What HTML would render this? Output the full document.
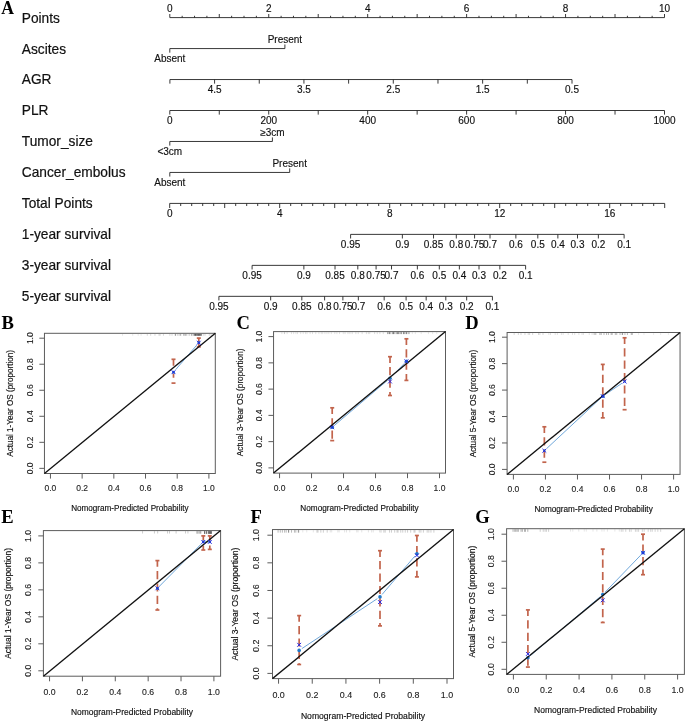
<!DOCTYPE html>
<html><head><meta charset="utf-8"><title>Nomogram and calibration curves</title>
<style>
html,body{margin:0;padding:0;background:#fff;}
svg{display:block}
text{font-family:"Liberation Sans",sans-serif;fill:#111}
.lab{font-size:13.72px;stroke:#111;stroke-width:0.2px}
.tk{font-size:10px;stroke:#111;stroke-width:0.15px}
.ct{font-size:8.5px;fill:#222;stroke:#222;stroke-width:0.12px}
.ttl{font-size:8.2px;fill:#111;stroke:#111;stroke-width:0.15px}
.pan{font-family:"Liberation Serif",serif;font-weight:bold;font-size:18.6px;fill:#000}
.ax{stroke:#222;stroke-width:0.9;fill:none}
.box{stroke:#5c5c5c;stroke-width:1;fill:none}
.diag{stroke:#111;stroke-width:1.35;fill:none}
.err{stroke:#c2644c;stroke-width:1.7;fill:none}
.cal{stroke:#4a90d0;stroke-width:0.8;fill:none}
.xm{stroke:#2424e0;stroke-width:1.0;fill:none}
.dot{fill:#1f78c8}
</style></head><body>
<svg width="685" height="721" viewBox="0 0 685 721">
<rect width="685" height="721" fill="#fff"/>
<defs><filter id="gs" x="0" y="0" width="100%" height="100%" filterUnits="objectBoundingBox" color-interpolation-filters="sRGB"><feColorMatrix type="saturate" values="0"/></filter></defs>

<g filter="url(#gs)">
<text class="pan" style="font-size:17.6px" transform="translate(1.2,13.8) scale(1,1.05)">A</text>
<text class="lab" x="21.8" y="22.7" text-anchor="start">Points</text>
<text class="lab" x="21.8" y="53.59" text-anchor="start">Ascites</text>
<text class="lab" x="21.8" y="84.48" text-anchor="start">AGR</text>
<text class="lab" x="21.8" y="115.37" text-anchor="start">PLR</text>
<text class="lab" x="21.8" y="146.26" text-anchor="start">Tumor_size</text>
<text class="lab" x="21.8" y="177.15" text-anchor="start">Cancer_embolus</text>
<text class="lab" x="21.8" y="208.04" text-anchor="start">Total Points</text>
<text class="lab" x="21.8" y="238.93" text-anchor="start">1-year survival</text>
<text class="lab" x="21.8" y="269.82" text-anchor="start">3-year survival</text>
<text class="lab" x="21.8" y="300.71" text-anchor="start">5-year survival</text>
<line class="ax" x1="169.8" y1="17.6" x2="664.5" y2="17.6"/>
<line class="ax" x1="169.8" y1="17.6" x2="169.8" y2="14"/>
<line class="ax" x1="182.17" y1="17.6" x2="182.17" y2="15.8"/>
<line class="ax" x1="194.54" y1="17.6" x2="194.54" y2="15.8"/>
<line class="ax" x1="206.9" y1="17.6" x2="206.9" y2="15.8"/>
<line class="ax" x1="219.27" y1="17.6" x2="219.27" y2="14"/>
<line class="ax" x1="231.64" y1="17.6" x2="231.64" y2="15.8"/>
<line class="ax" x1="244" y1="17.6" x2="244" y2="15.8"/>
<line class="ax" x1="256.37" y1="17.6" x2="256.37" y2="15.8"/>
<line class="ax" x1="268.74" y1="17.6" x2="268.74" y2="14"/>
<line class="ax" x1="281.11" y1="17.6" x2="281.11" y2="15.8"/>
<line class="ax" x1="293.48" y1="17.6" x2="293.48" y2="15.8"/>
<line class="ax" x1="305.84" y1="17.6" x2="305.84" y2="15.8"/>
<line class="ax" x1="318.21" y1="17.6" x2="318.21" y2="14"/>
<line class="ax" x1="330.58" y1="17.6" x2="330.58" y2="15.8"/>
<line class="ax" x1="342.94" y1="17.6" x2="342.94" y2="15.8"/>
<line class="ax" x1="355.31" y1="17.6" x2="355.31" y2="15.8"/>
<line class="ax" x1="367.68" y1="17.6" x2="367.68" y2="14"/>
<line class="ax" x1="380.05" y1="17.6" x2="380.05" y2="15.8"/>
<line class="ax" x1="392.42" y1="17.6" x2="392.42" y2="15.8"/>
<line class="ax" x1="404.78" y1="17.6" x2="404.78" y2="15.8"/>
<line class="ax" x1="417.15" y1="17.6" x2="417.15" y2="14"/>
<line class="ax" x1="429.52" y1="17.6" x2="429.52" y2="15.8"/>
<line class="ax" x1="441.88" y1="17.6" x2="441.88" y2="15.8"/>
<line class="ax" x1="454.25" y1="17.6" x2="454.25" y2="15.8"/>
<line class="ax" x1="466.62" y1="17.6" x2="466.62" y2="14"/>
<line class="ax" x1="478.99" y1="17.6" x2="478.99" y2="15.8"/>
<line class="ax" x1="491.36" y1="17.6" x2="491.36" y2="15.8"/>
<line class="ax" x1="503.72" y1="17.6" x2="503.72" y2="15.8"/>
<line class="ax" x1="516.09" y1="17.6" x2="516.09" y2="14"/>
<line class="ax" x1="528.46" y1="17.6" x2="528.46" y2="15.8"/>
<line class="ax" x1="540.83" y1="17.6" x2="540.83" y2="15.8"/>
<line class="ax" x1="553.19" y1="17.6" x2="553.19" y2="15.8"/>
<line class="ax" x1="565.56" y1="17.6" x2="565.56" y2="14"/>
<line class="ax" x1="577.93" y1="17.6" x2="577.93" y2="15.8"/>
<line class="ax" x1="590.3" y1="17.6" x2="590.3" y2="15.8"/>
<line class="ax" x1="602.66" y1="17.6" x2="602.66" y2="15.8"/>
<line class="ax" x1="615.03" y1="17.6" x2="615.03" y2="14"/>
<line class="ax" x1="627.4" y1="17.6" x2="627.4" y2="15.8"/>
<line class="ax" x1="639.76" y1="17.6" x2="639.76" y2="15.8"/>
<line class="ax" x1="652.13" y1="17.6" x2="652.13" y2="15.8"/>
<line class="ax" x1="664.5" y1="17.6" x2="664.5" y2="14"/>
<text class="tk" x="169.8" y="12" text-anchor="middle">0</text>
<text class="tk" x="268.74" y="12" text-anchor="middle">2</text>
<text class="tk" x="367.68" y="12" text-anchor="middle">4</text>
<text class="tk" x="466.62" y="12" text-anchor="middle">6</text>
<text class="tk" x="565.56" y="12" text-anchor="middle">8</text>
<text class="tk" x="664.5" y="12" text-anchor="middle">10</text>
<line class="ax" x1="169.8" y1="48.57" x2="284.9" y2="48.57"/>
<line class="ax" x1="169.8" y1="48.57" x2="169.8" y2="52.67"/>
<line class="ax" x1="284.9" y1="48.57" x2="284.9" y2="44.47"/>
<text class="tk" x="284.9" y="43.17" text-anchor="middle">Present</text>
<text class="tk" x="169.8" y="61.97" text-anchor="middle">Absent</text>
<line class="ax" x1="169.9" y1="79.54" x2="572" y2="79.54"/>
<line class="ax" x1="169.9" y1="79.54" x2="169.9" y2="83.64"/>
<line class="ax" x1="214.58" y1="79.54" x2="214.58" y2="83.64"/>
<text class="tk" x="214.58" y="92.74" text-anchor="middle">4.5</text>
<line class="ax" x1="259.26" y1="79.54" x2="259.26" y2="83.64"/>
<line class="ax" x1="303.93" y1="79.54" x2="303.93" y2="83.64"/>
<text class="tk" x="303.93" y="92.74" text-anchor="middle">3.5</text>
<line class="ax" x1="348.61" y1="79.54" x2="348.61" y2="83.64"/>
<line class="ax" x1="393.29" y1="79.54" x2="393.29" y2="83.64"/>
<text class="tk" x="393.29" y="92.74" text-anchor="middle">2.5</text>
<line class="ax" x1="437.97" y1="79.54" x2="437.97" y2="83.64"/>
<line class="ax" x1="482.64" y1="79.54" x2="482.64" y2="83.64"/>
<text class="tk" x="482.64" y="92.74" text-anchor="middle">1.5</text>
<line class="ax" x1="527.32" y1="79.54" x2="527.32" y2="83.64"/>
<line class="ax" x1="572" y1="79.54" x2="572" y2="83.64"/>
<text class="tk" x="572" y="92.74" text-anchor="middle">0.5</text>
<line class="ax" x1="169.8" y1="110.51" x2="664.5" y2="110.51"/>
<line class="ax" x1="169.8" y1="110.51" x2="169.8" y2="114.61"/>
<text class="tk" x="169.8" y="124.01" text-anchor="middle">0</text>
<line class="ax" x1="219.27" y1="110.51" x2="219.27" y2="114.61"/>
<line class="ax" x1="268.74" y1="110.51" x2="268.74" y2="114.61"/>
<text class="tk" x="268.74" y="124.01" text-anchor="middle">200</text>
<line class="ax" x1="318.21" y1="110.51" x2="318.21" y2="114.61"/>
<line class="ax" x1="367.68" y1="110.51" x2="367.68" y2="114.61"/>
<text class="tk" x="367.68" y="124.01" text-anchor="middle">400</text>
<line class="ax" x1="417.15" y1="110.51" x2="417.15" y2="114.61"/>
<line class="ax" x1="466.62" y1="110.51" x2="466.62" y2="114.61"/>
<text class="tk" x="466.62" y="124.01" text-anchor="middle">600</text>
<line class="ax" x1="516.09" y1="110.51" x2="516.09" y2="114.61"/>
<line class="ax" x1="565.56" y1="110.51" x2="565.56" y2="114.61"/>
<text class="tk" x="565.56" y="124.01" text-anchor="middle">800</text>
<line class="ax" x1="615.03" y1="110.51" x2="615.03" y2="114.61"/>
<line class="ax" x1="664.5" y1="110.51" x2="664.5" y2="114.61"/>
<text class="tk" x="664.5" y="124.01" text-anchor="middle">1000</text>
<line class="ax" x1="169.8" y1="141.48" x2="272.4" y2="141.48"/>
<line class="ax" x1="169.8" y1="141.48" x2="169.8" y2="145.58"/>
<line class="ax" x1="272.4" y1="141.48" x2="272.4" y2="137.38"/>
<text class="tk" x="272.4" y="136.08" text-anchor="middle">≥3cm</text>
<text class="tk" x="169.8" y="154.88" text-anchor="middle">&lt;3cm</text>
<line class="ax" x1="169.8" y1="172.45" x2="289.7" y2="172.45"/>
<line class="ax" x1="169.8" y1="172.45" x2="169.8" y2="176.55"/>
<line class="ax" x1="289.7" y1="172.45" x2="289.7" y2="168.35"/>
<text class="tk" x="289.7" y="167.05" text-anchor="middle">Present</text>
<text class="tk" x="169.8" y="185.85" text-anchor="middle">Absent</text>
<line class="ax" x1="169.7" y1="203.42" x2="664.7" y2="203.42"/>
<line class="ax" x1="169.7" y1="203.42" x2="169.7" y2="208.02"/>
<line class="ax" x1="180.7" y1="203.42" x2="180.7" y2="206.02"/>
<line class="ax" x1="191.7" y1="203.42" x2="191.7" y2="206.02"/>
<line class="ax" x1="202.7" y1="203.42" x2="202.7" y2="206.02"/>
<line class="ax" x1="213.7" y1="203.42" x2="213.7" y2="206.02"/>
<line class="ax" x1="224.7" y1="203.42" x2="224.7" y2="208.02"/>
<line class="ax" x1="235.7" y1="203.42" x2="235.7" y2="206.02"/>
<line class="ax" x1="246.7" y1="203.42" x2="246.7" y2="206.02"/>
<line class="ax" x1="257.7" y1="203.42" x2="257.7" y2="206.02"/>
<line class="ax" x1="268.7" y1="203.42" x2="268.7" y2="206.02"/>
<line class="ax" x1="279.7" y1="203.42" x2="279.7" y2="208.02"/>
<line class="ax" x1="290.7" y1="203.42" x2="290.7" y2="206.02"/>
<line class="ax" x1="301.7" y1="203.42" x2="301.7" y2="206.02"/>
<line class="ax" x1="312.7" y1="203.42" x2="312.7" y2="206.02"/>
<line class="ax" x1="323.7" y1="203.42" x2="323.7" y2="206.02"/>
<line class="ax" x1="334.7" y1="203.42" x2="334.7" y2="208.02"/>
<line class="ax" x1="345.7" y1="203.42" x2="345.7" y2="206.02"/>
<line class="ax" x1="356.7" y1="203.42" x2="356.7" y2="206.02"/>
<line class="ax" x1="367.7" y1="203.42" x2="367.7" y2="206.02"/>
<line class="ax" x1="378.7" y1="203.42" x2="378.7" y2="206.02"/>
<line class="ax" x1="389.7" y1="203.42" x2="389.7" y2="208.02"/>
<line class="ax" x1="400.7" y1="203.42" x2="400.7" y2="206.02"/>
<line class="ax" x1="411.7" y1="203.42" x2="411.7" y2="206.02"/>
<line class="ax" x1="422.7" y1="203.42" x2="422.7" y2="206.02"/>
<line class="ax" x1="433.7" y1="203.42" x2="433.7" y2="206.02"/>
<line class="ax" x1="444.7" y1="203.42" x2="444.7" y2="208.02"/>
<line class="ax" x1="455.7" y1="203.42" x2="455.7" y2="206.02"/>
<line class="ax" x1="466.7" y1="203.42" x2="466.7" y2="206.02"/>
<line class="ax" x1="477.7" y1="203.42" x2="477.7" y2="206.02"/>
<line class="ax" x1="488.7" y1="203.42" x2="488.7" y2="206.02"/>
<line class="ax" x1="499.7" y1="203.42" x2="499.7" y2="208.02"/>
<line class="ax" x1="510.7" y1="203.42" x2="510.7" y2="206.02"/>
<line class="ax" x1="521.7" y1="203.42" x2="521.7" y2="206.02"/>
<line class="ax" x1="532.7" y1="203.42" x2="532.7" y2="206.02"/>
<line class="ax" x1="543.7" y1="203.42" x2="543.7" y2="206.02"/>
<line class="ax" x1="554.7" y1="203.42" x2="554.7" y2="208.02"/>
<line class="ax" x1="565.7" y1="203.42" x2="565.7" y2="206.02"/>
<line class="ax" x1="576.7" y1="203.42" x2="576.7" y2="206.02"/>
<line class="ax" x1="587.7" y1="203.42" x2="587.7" y2="206.02"/>
<line class="ax" x1="598.7" y1="203.42" x2="598.7" y2="206.02"/>
<line class="ax" x1="609.7" y1="203.42" x2="609.7" y2="208.02"/>
<line class="ax" x1="620.7" y1="203.42" x2="620.7" y2="206.02"/>
<line class="ax" x1="631.7" y1="203.42" x2="631.7" y2="206.02"/>
<line class="ax" x1="642.7" y1="203.42" x2="642.7" y2="206.02"/>
<line class="ax" x1="653.7" y1="203.42" x2="653.7" y2="206.02"/>
<line class="ax" x1="664.7" y1="203.42" x2="664.7" y2="208.02"/>
<text class="tk" x="169.7" y="217.42" text-anchor="middle">0</text>
<text class="tk" x="279.7" y="217.42" text-anchor="middle">4</text>
<text class="tk" x="389.7" y="217.42" text-anchor="middle">8</text>
<text class="tk" x="499.7" y="217.42" text-anchor="middle">12</text>
<text class="tk" x="609.7" y="217.42" text-anchor="middle">16</text>
<line class="ax" x1="350.6" y1="234.39" x2="624.12" y2="234.39"/>
<line class="ax" x1="350.6" y1="234.39" x2="350.6" y2="238.49"/>
<text class="tk" x="350.6" y="248.19" text-anchor="middle">0.95</text>
<line class="ax" x1="402.36" y1="234.39" x2="402.36" y2="238.49"/>
<text class="tk" x="402.36" y="248.19" text-anchor="middle">0.9</text>
<line class="ax" x1="433.52" y1="234.39" x2="433.52" y2="238.49"/>
<text class="tk" x="433.52" y="248.19" text-anchor="middle">0.85</text>
<line class="ax" x1="456.31" y1="234.39" x2="456.31" y2="238.49"/>
<text class="tk" x="456.31" y="248.19" text-anchor="middle">0.8</text>
<line class="ax" x1="474.58" y1="234.39" x2="474.58" y2="238.49"/>
<text class="tk" x="474.58" y="248.19" text-anchor="middle">0.75</text>
<line class="ax" x1="490.03" y1="234.39" x2="490.03" y2="238.49"/>
<text class="tk" x="490.03" y="248.19" text-anchor="middle">0.7</text>
<line class="ax" x1="515.86" y1="234.39" x2="515.86" y2="238.49"/>
<text class="tk" x="515.86" y="248.19" text-anchor="middle">0.6</text>
<line class="ax" x1="537.8" y1="234.39" x2="537.8" y2="238.49"/>
<text class="tk" x="537.8" y="248.19" text-anchor="middle">0.5</text>
<line class="ax" x1="557.87" y1="234.39" x2="557.87" y2="238.49"/>
<text class="tk" x="557.87" y="248.19" text-anchor="middle">0.4</text>
<line class="ax" x1="577.5" y1="234.39" x2="577.5" y2="238.49"/>
<text class="tk" x="577.5" y="248.19" text-anchor="middle">0.3</text>
<line class="ax" x1="598.37" y1="234.39" x2="598.37" y2="238.49"/>
<text class="tk" x="598.37" y="248.19" text-anchor="middle">0.2</text>
<line class="ax" x1="624.12" y1="234.39" x2="624.12" y2="238.49"/>
<text class="tk" x="624.12" y="248.19" text-anchor="middle">0.1</text>
<line class="ax" x1="252.1" y1="265.36" x2="525.62" y2="265.36"/>
<line class="ax" x1="252.1" y1="265.36" x2="252.1" y2="269.46"/>
<text class="tk" x="252.1" y="279.16" text-anchor="middle">0.95</text>
<line class="ax" x1="303.86" y1="265.36" x2="303.86" y2="269.46"/>
<text class="tk" x="303.86" y="279.16" text-anchor="middle">0.9</text>
<line class="ax" x1="335.02" y1="265.36" x2="335.02" y2="269.46"/>
<text class="tk" x="335.02" y="279.16" text-anchor="middle">0.85</text>
<line class="ax" x1="357.81" y1="265.36" x2="357.81" y2="269.46"/>
<text class="tk" x="357.81" y="279.16" text-anchor="middle">0.8</text>
<line class="ax" x1="376.08" y1="265.36" x2="376.08" y2="269.46"/>
<text class="tk" x="376.08" y="279.16" text-anchor="middle">0.75</text>
<line class="ax" x1="391.53" y1="265.36" x2="391.53" y2="269.46"/>
<text class="tk" x="391.53" y="279.16" text-anchor="middle">0.7</text>
<line class="ax" x1="417.36" y1="265.36" x2="417.36" y2="269.46"/>
<text class="tk" x="417.36" y="279.16" text-anchor="middle">0.6</text>
<line class="ax" x1="439.3" y1="265.36" x2="439.3" y2="269.46"/>
<text class="tk" x="439.3" y="279.16" text-anchor="middle">0.5</text>
<line class="ax" x1="459.37" y1="265.36" x2="459.37" y2="269.46"/>
<text class="tk" x="459.37" y="279.16" text-anchor="middle">0.4</text>
<line class="ax" x1="479" y1="265.36" x2="479" y2="269.46"/>
<text class="tk" x="479" y="279.16" text-anchor="middle">0.3</text>
<line class="ax" x1="499.87" y1="265.36" x2="499.87" y2="269.46"/>
<text class="tk" x="499.87" y="279.16" text-anchor="middle">0.2</text>
<line class="ax" x1="525.62" y1="265.36" x2="525.62" y2="269.46"/>
<text class="tk" x="525.62" y="279.16" text-anchor="middle">0.1</text>
<line class="ax" x1="218.9" y1="296.33" x2="492.42" y2="296.33"/>
<line class="ax" x1="218.9" y1="296.33" x2="218.9" y2="300.43"/>
<text class="tk" x="218.9" y="310.13" text-anchor="middle">0.95</text>
<line class="ax" x1="270.66" y1="296.33" x2="270.66" y2="300.43"/>
<text class="tk" x="270.66" y="310.13" text-anchor="middle">0.9</text>
<line class="ax" x1="301.82" y1="296.33" x2="301.82" y2="300.43"/>
<text class="tk" x="301.82" y="310.13" text-anchor="middle">0.85</text>
<line class="ax" x1="324.61" y1="296.33" x2="324.61" y2="300.43"/>
<text class="tk" x="324.61" y="310.13" text-anchor="middle">0.8</text>
<line class="ax" x1="342.88" y1="296.33" x2="342.88" y2="300.43"/>
<text class="tk" x="342.88" y="310.13" text-anchor="middle">0.75</text>
<line class="ax" x1="358.33" y1="296.33" x2="358.33" y2="300.43"/>
<text class="tk" x="358.33" y="310.13" text-anchor="middle">0.7</text>
<line class="ax" x1="384.16" y1="296.33" x2="384.16" y2="300.43"/>
<text class="tk" x="384.16" y="310.13" text-anchor="middle">0.6</text>
<line class="ax" x1="406.1" y1="296.33" x2="406.1" y2="300.43"/>
<text class="tk" x="406.1" y="310.13" text-anchor="middle">0.5</text>
<line class="ax" x1="426.17" y1="296.33" x2="426.17" y2="300.43"/>
<text class="tk" x="426.17" y="310.13" text-anchor="middle">0.4</text>
<line class="ax" x1="445.8" y1="296.33" x2="445.8" y2="300.43"/>
<text class="tk" x="445.8" y="310.13" text-anchor="middle">0.3</text>
<line class="ax" x1="466.67" y1="296.33" x2="466.67" y2="300.43"/>
<text class="tk" x="466.67" y="310.13" text-anchor="middle">0.2</text>
<line class="ax" x1="492.42" y1="296.33" x2="492.42" y2="300.43"/>
<text class="tk" x="492.42" y="310.13" text-anchor="middle">0.1</text>
<text class="pan" transform="translate(1.6,329.3) scale(1,1.05)">B</text>
<line x1="122.55" y1="333.8" x2="122.55" y2="335.8" stroke="#000" stroke-opacity="0.17" stroke-width="0.6"/>
<line x1="132.73" y1="333.8" x2="132.73" y2="335.8" stroke="#000" stroke-opacity="0.17" stroke-width="0.6"/>
<line x1="138.17" y1="333.8" x2="138.17" y2="335.8" stroke="#000" stroke-opacity="0.17" stroke-width="0.6"/>
<line x1="141.09" y1="333.8" x2="141.09" y2="335.8" stroke="#000" stroke-opacity="0.17" stroke-width="0.6"/>
<line x1="147.29" y1="333.8" x2="147.29" y2="335.8" stroke="#000" stroke-opacity="0.26" stroke-width="0.6"/>
<line x1="150.69" y1="333.8" x2="150.69" y2="335.8" stroke="#000" stroke-opacity="0.26" stroke-width="0.6"/>
<line x1="154.97" y1="333.8" x2="154.97" y2="335.8" stroke="#000" stroke-opacity="0.26" stroke-width="0.6"/>
<line x1="159.03" y1="333.8" x2="159.03" y2="335.8" stroke="#000" stroke-opacity="0.26" stroke-width="0.6"/>
<line x1="160.12" y1="333.8" x2="160.12" y2="335.8" stroke="#000" stroke-opacity="0.26" stroke-width="0.6"/>
<line x1="163.45" y1="333.8" x2="163.45" y2="335.8" stroke="#000" stroke-opacity="0.26" stroke-width="0.6"/>
<line x1="169.89" y1="333.8" x2="169.89" y2="335.8" stroke="#000" stroke-opacity="0.26" stroke-width="0.6"/>
<line x1="172.02" y1="333.8" x2="172.02" y2="335.8" stroke="#000" stroke-opacity="0.26" stroke-width="0.6"/>
<line x1="175.25" y1="333.8" x2="175.25" y2="335.8" stroke="#000" stroke-opacity="0.43" stroke-width="0.6"/>
<line x1="175.63" y1="333.8" x2="175.63" y2="335.8" stroke="#000" stroke-opacity="0.43" stroke-width="0.6"/>
<line x1="177.92" y1="333.8" x2="177.92" y2="335.8" stroke="#000" stroke-opacity="0.43" stroke-width="0.6"/>
<line x1="179.94" y1="333.8" x2="179.94" y2="335.8" stroke="#000" stroke-opacity="0.43" stroke-width="0.6"/>
<line x1="180.74" y1="333.8" x2="180.74" y2="335.8" stroke="#000" stroke-opacity="0.43" stroke-width="0.6"/>
<line x1="183.46" y1="333.8" x2="183.46" y2="335.8" stroke="#000" stroke-opacity="0.43" stroke-width="0.6"/>
<line x1="184.98" y1="333.8" x2="184.98" y2="335.8" stroke="#000" stroke-opacity="0.43" stroke-width="0.6"/>
<line x1="185.18" y1="333.8" x2="185.18" y2="335.8" stroke="#000" stroke-opacity="0.43" stroke-width="0.6"/>
<line x1="186.76" y1="333.8" x2="186.76" y2="335.8" stroke="#000" stroke-opacity="0.43" stroke-width="0.6"/>
<line x1="189.16" y1="333.8" x2="189.16" y2="335.8" stroke="#000" stroke-opacity="0.43" stroke-width="0.6"/>
<line x1="191.37" y1="333.8" x2="191.37" y2="335.8" stroke="#000" stroke-opacity="0.43" stroke-width="0.6"/>
<line x1="192.07" y1="333.8" x2="192.07" y2="335.8" stroke="#000" stroke-opacity="0.43" stroke-width="0.6"/>
<line x1="194.02" y1="333.8" x2="194.02" y2="335.8" stroke="#000" stroke-opacity="0.9" stroke-width="0.6"/>
<line x1="194.97" y1="333.8" x2="194.97" y2="335.8" stroke="#000" stroke-opacity="0.9" stroke-width="0.6"/>
<line x1="195.45" y1="333.8" x2="195.45" y2="335.8" stroke="#000" stroke-opacity="0.9" stroke-width="0.6"/>
<line x1="196.4" y1="333.8" x2="196.4" y2="335.8" stroke="#000" stroke-opacity="0.9" stroke-width="0.6"/>
<line x1="197.36" y1="333.8" x2="197.36" y2="335.8" stroke="#000" stroke-opacity="0.9" stroke-width="0.6"/>
<line x1="198.2" y1="333.8" x2="198.2" y2="335.8" stroke="#000" stroke-opacity="0.9" stroke-width="0.6"/>
<line x1="198.79" y1="333.8" x2="198.79" y2="335.8" stroke="#000" stroke-opacity="0.9" stroke-width="0.6"/>
<line x1="199.58" y1="333.8" x2="199.58" y2="335.8" stroke="#000" stroke-opacity="0.9" stroke-width="0.6"/>
<line x1="200.36" y1="333.8" x2="200.36" y2="335.8" stroke="#000" stroke-opacity="0.9" stroke-width="0.6"/>
<line x1="201.34" y1="333.8" x2="201.34" y2="335.8" stroke="#000" stroke-opacity="0.9" stroke-width="0.6"/>
<line x1="203.25" y1="333.8" x2="203.25" y2="335.8" stroke="#000" stroke-opacity="0.26" stroke-width="0.6"/>
<line x1="204.99" y1="333.8" x2="204.99" y2="335.8" stroke="#000" stroke-opacity="0.26" stroke-width="0.6"/>
<line x1="209.31" y1="333.8" x2="209.31" y2="335.8" stroke="#000" stroke-opacity="0.26" stroke-width="0.6"/>
<line x1="211.01" y1="333.8" x2="211.01" y2="335.8" stroke="#000" stroke-opacity="0.26" stroke-width="0.6"/>
<rect class="box" x="44.45" y="333.3" width="170.85" height="140.2"/>
<line class="box" x1="50.45" y1="473.5" x2="50.45" y2="478.6"/>
<text class="ct" x="50.45" y="491.3" text-anchor="middle" style="font-size:8.5px">0.0</text>
<line class="box" x1="44.45" y1="468.35" x2="39.35" y2="468.35"/>
<text class="ct" style="font-size:8.5px" text-anchor="middle" transform="translate(33.3,468.35) rotate(-90)">0.0</text>
<line class="box" x1="82.14" y1="473.5" x2="82.14" y2="478.6"/>
<text class="ct" x="82.14" y="491.3" text-anchor="middle" style="font-size:8.5px">0.2</text>
<line class="box" x1="44.45" y1="442.32" x2="39.35" y2="442.32"/>
<text class="ct" style="font-size:8.5px" text-anchor="middle" transform="translate(33.3,442.32) rotate(-90)">0.2</text>
<line class="box" x1="113.83" y1="473.5" x2="113.83" y2="478.6"/>
<text class="ct" x="113.83" y="491.3" text-anchor="middle" style="font-size:8.5px">0.4</text>
<line class="box" x1="44.45" y1="416.29" x2="39.35" y2="416.29"/>
<text class="ct" style="font-size:8.5px" text-anchor="middle" transform="translate(33.3,416.29) rotate(-90)">0.4</text>
<line class="box" x1="145.52" y1="473.5" x2="145.52" y2="478.6"/>
<text class="ct" x="145.52" y="491.3" text-anchor="middle" style="font-size:8.5px">0.6</text>
<line class="box" x1="44.45" y1="390.26" x2="39.35" y2="390.26"/>
<text class="ct" style="font-size:8.5px" text-anchor="middle" transform="translate(33.3,390.26) rotate(-90)">0.6</text>
<line class="box" x1="177.21" y1="473.5" x2="177.21" y2="478.6"/>
<text class="ct" x="177.21" y="491.3" text-anchor="middle" style="font-size:8.5px">0.8</text>
<line class="box" x1="44.45" y1="364.23" x2="39.35" y2="364.23"/>
<text class="ct" style="font-size:8.5px" text-anchor="middle" transform="translate(33.3,364.23) rotate(-90)">0.8</text>
<line class="box" x1="208.9" y1="473.5" x2="208.9" y2="478.6"/>
<text class="ct" x="208.9" y="491.3" text-anchor="middle" style="font-size:8.5px">1.0</text>
<line class="box" x1="44.45" y1="338.2" x2="39.35" y2="338.2"/>
<text class="ct" style="font-size:8.5px" text-anchor="middle" transform="translate(33.3,338.2) rotate(-90)">1.0</text>
<text class="ttl" x="129.88" y="510.5" text-anchor="middle" style="font-size:8.15px">Nomogram-Predicted Probability</text>
<text class="ttl" style="font-size:8.15px" text-anchor="middle" transform="translate(13.3,403.4) rotate(-90)">Actual 1-Year OS (proportion)</text>
<text class="pan" transform="translate(236.4,329.4) scale(1,1.05)">C</text>
<line x1="281.9" y1="332.1" x2="281.9" y2="334.1" stroke="#000" stroke-opacity="0.2" stroke-width="0.6"/>
<line x1="284.34" y1="332.1" x2="284.34" y2="334.1" stroke="#000" stroke-opacity="0.2" stroke-width="0.6"/>
<line x1="284.61" y1="332.1" x2="284.61" y2="334.1" stroke="#000" stroke-opacity="0.2" stroke-width="0.6"/>
<line x1="287.14" y1="332.1" x2="287.14" y2="334.1" stroke="#000" stroke-opacity="0.2" stroke-width="0.6"/>
<line x1="291.45" y1="332.1" x2="291.45" y2="334.1" stroke="#000" stroke-opacity="0.2" stroke-width="0.6"/>
<line x1="293.66" y1="332.1" x2="293.66" y2="334.1" stroke="#000" stroke-opacity="0.2" stroke-width="0.6"/>
<line x1="295.96" y1="332.1" x2="295.96" y2="334.1" stroke="#000" stroke-opacity="0.2" stroke-width="0.6"/>
<line x1="297.53" y1="332.1" x2="297.53" y2="334.1" stroke="#000" stroke-opacity="0.2" stroke-width="0.6"/>
<line x1="300.73" y1="332.1" x2="300.73" y2="334.1" stroke="#000" stroke-opacity="0.2" stroke-width="0.6"/>
<line x1="303.19" y1="332.1" x2="303.19" y2="334.1" stroke="#000" stroke-opacity="0.2" stroke-width="0.6"/>
<line x1="305.59" y1="332.1" x2="305.59" y2="334.1" stroke="#000" stroke-opacity="0.2" stroke-width="0.6"/>
<line x1="307.01" y1="332.1" x2="307.01" y2="334.1" stroke="#000" stroke-opacity="0.2" stroke-width="0.6"/>
<line x1="310.14" y1="332.1" x2="310.14" y2="334.1" stroke="#000" stroke-opacity="0.2" stroke-width="0.6"/>
<line x1="312.51" y1="332.1" x2="312.51" y2="334.1" stroke="#000" stroke-opacity="0.2" stroke-width="0.6"/>
<line x1="315.78" y1="332.1" x2="315.78" y2="334.1" stroke="#000" stroke-opacity="0.2" stroke-width="0.6"/>
<line x1="318.91" y1="332.1" x2="318.91" y2="334.1" stroke="#000" stroke-opacity="0.2" stroke-width="0.6"/>
<line x1="321.26" y1="332.1" x2="321.26" y2="334.1" stroke="#000" stroke-opacity="0.2" stroke-width="0.6"/>
<line x1="322.72" y1="332.1" x2="322.72" y2="334.1" stroke="#000" stroke-opacity="0.2" stroke-width="0.6"/>
<line x1="324.94" y1="332.1" x2="324.94" y2="334.1" stroke="#000" stroke-opacity="0.2" stroke-width="0.6"/>
<line x1="326.96" y1="332.1" x2="326.96" y2="334.1" stroke="#000" stroke-opacity="0.2" stroke-width="0.6"/>
<line x1="328.85" y1="332.1" x2="328.85" y2="334.1" stroke="#000" stroke-opacity="0.2" stroke-width="0.6"/>
<line x1="331.29" y1="332.1" x2="331.29" y2="334.1" stroke="#000" stroke-opacity="0.2" stroke-width="0.6"/>
<line x1="334.83" y1="332.1" x2="334.83" y2="334.1" stroke="#000" stroke-opacity="0.2" stroke-width="0.6"/>
<line x1="336.93" y1="332.1" x2="336.93" y2="334.1" stroke="#000" stroke-opacity="0.2" stroke-width="0.6"/>
<line x1="339.54" y1="332.1" x2="339.54" y2="334.1" stroke="#000" stroke-opacity="0.2" stroke-width="0.6"/>
<line x1="343.26" y1="332.1" x2="343.26" y2="334.1" stroke="#000" stroke-opacity="0.2" stroke-width="0.6"/>
<line x1="345.03" y1="332.1" x2="345.03" y2="334.1" stroke="#000" stroke-opacity="0.23" stroke-width="0.6"/>
<line x1="347.99" y1="332.1" x2="347.99" y2="334.1" stroke="#000" stroke-opacity="0.23" stroke-width="0.6"/>
<line x1="349.92" y1="332.1" x2="349.92" y2="334.1" stroke="#000" stroke-opacity="0.23" stroke-width="0.6"/>
<line x1="352.17" y1="332.1" x2="352.17" y2="334.1" stroke="#000" stroke-opacity="0.23" stroke-width="0.6"/>
<line x1="355.88" y1="332.1" x2="355.88" y2="334.1" stroke="#000" stroke-opacity="0.23" stroke-width="0.6"/>
<line x1="358.2" y1="332.1" x2="358.2" y2="334.1" stroke="#000" stroke-opacity="0.23" stroke-width="0.6"/>
<line x1="362.12" y1="332.1" x2="362.12" y2="334.1" stroke="#000" stroke-opacity="0.23" stroke-width="0.6"/>
<line x1="366.38" y1="332.1" x2="366.38" y2="334.1" stroke="#000" stroke-opacity="0.23" stroke-width="0.6"/>
<line x1="368.31" y1="332.1" x2="368.31" y2="334.1" stroke="#000" stroke-opacity="0.23" stroke-width="0.6"/>
<line x1="369.76" y1="332.1" x2="369.76" y2="334.1" stroke="#000" stroke-opacity="0.23" stroke-width="0.6"/>
<line x1="374.64" y1="332.1" x2="374.64" y2="334.1" stroke="#000" stroke-opacity="0.23" stroke-width="0.6"/>
<line x1="377.22" y1="332.1" x2="377.22" y2="334.1" stroke="#000" stroke-opacity="0.23" stroke-width="0.6"/>
<line x1="379.9" y1="332.1" x2="379.9" y2="334.1" stroke="#000" stroke-opacity="0.23" stroke-width="0.6"/>
<line x1="383.25" y1="332.1" x2="383.25" y2="334.1" stroke="#000" stroke-opacity="0.23" stroke-width="0.6"/>
<line x1="387.78" y1="332.1" x2="387.78" y2="334.1" stroke="#000" stroke-opacity="0.72" stroke-width="0.6"/>
<line x1="389.22" y1="332.1" x2="389.22" y2="334.1" stroke="#000" stroke-opacity="0.72" stroke-width="0.6"/>
<line x1="390.01" y1="332.1" x2="390.01" y2="334.1" stroke="#000" stroke-opacity="0.72" stroke-width="0.6"/>
<line x1="392.29" y1="332.1" x2="392.29" y2="334.1" stroke="#000" stroke-opacity="0.72" stroke-width="0.6"/>
<line x1="393.66" y1="332.1" x2="393.66" y2="334.1" stroke="#000" stroke-opacity="0.72" stroke-width="0.6"/>
<line x1="393.94" y1="332.1" x2="393.94" y2="334.1" stroke="#000" stroke-opacity="0.72" stroke-width="0.6"/>
<line x1="396.17" y1="332.1" x2="396.17" y2="334.1" stroke="#000" stroke-opacity="0.72" stroke-width="0.6"/>
<line x1="397.51" y1="332.1" x2="397.51" y2="334.1" stroke="#000" stroke-opacity="0.72" stroke-width="0.6"/>
<line x1="398.56" y1="332.1" x2="398.56" y2="334.1" stroke="#000" stroke-opacity="0.72" stroke-width="0.6"/>
<line x1="400.05" y1="332.1" x2="400.05" y2="334.1" stroke="#000" stroke-opacity="0.72" stroke-width="0.6"/>
<line x1="401.4" y1="332.1" x2="401.4" y2="334.1" stroke="#000" stroke-opacity="0.72" stroke-width="0.6"/>
<line x1="403.41" y1="332.1" x2="403.41" y2="334.1" stroke="#000" stroke-opacity="0.72" stroke-width="0.6"/>
<line x1="404.21" y1="332.1" x2="404.21" y2="334.1" stroke="#000" stroke-opacity="0.72" stroke-width="0.6"/>
<line x1="406.07" y1="332.1" x2="406.07" y2="334.1" stroke="#000" stroke-opacity="0.72" stroke-width="0.6"/>
<line x1="406.81" y1="332.1" x2="406.81" y2="334.1" stroke="#000" stroke-opacity="0.72" stroke-width="0.6"/>
<line x1="408.95" y1="332.1" x2="408.95" y2="334.1" stroke="#000" stroke-opacity="0.72" stroke-width="0.6"/>
<line x1="412.31" y1="332.1" x2="412.31" y2="334.1" stroke="#000" stroke-opacity="0.17" stroke-width="0.6"/>
<line x1="415.3" y1="332.1" x2="415.3" y2="334.1" stroke="#000" stroke-opacity="0.17" stroke-width="0.6"/>
<line x1="421.2" y1="332.1" x2="421.2" y2="334.1" stroke="#000" stroke-opacity="0.17" stroke-width="0.6"/>
<line x1="428.41" y1="332.1" x2="428.41" y2="334.1" stroke="#000" stroke-opacity="0.17" stroke-width="0.6"/>
<line x1="432.7" y1="332.1" x2="432.7" y2="334.1" stroke="#000" stroke-opacity="0.17" stroke-width="0.6"/>
<line x1="436.76" y1="332.1" x2="436.76" y2="334.1" stroke="#000" stroke-opacity="0.17" stroke-width="0.6"/>
<rect class="box" x="273.55" y="331.6" width="171.95" height="141.5"/>
<line class="box" x1="279.55" y1="473.1" x2="279.55" y2="478.2"/>
<text class="ct" x="279.55" y="491.3" text-anchor="middle" style="font-size:8.5px">0.0</text>
<line class="box" x1="273.55" y1="467.9" x2="268.45" y2="467.9"/>
<text class="ct" style="font-size:8.5px" text-anchor="middle" transform="translate(262,467.9) rotate(-90)">0.0</text>
<line class="box" x1="311.54" y1="473.1" x2="311.54" y2="478.2"/>
<text class="ct" x="311.54" y="491.3" text-anchor="middle" style="font-size:8.5px">0.2</text>
<line class="box" x1="273.55" y1="441.64" x2="268.45" y2="441.64"/>
<text class="ct" style="font-size:8.5px" text-anchor="middle" transform="translate(262,441.64) rotate(-90)">0.2</text>
<line class="box" x1="343.53" y1="473.1" x2="343.53" y2="478.2"/>
<text class="ct" x="343.53" y="491.3" text-anchor="middle" style="font-size:8.5px">0.4</text>
<line class="box" x1="273.55" y1="415.38" x2="268.45" y2="415.38"/>
<text class="ct" style="font-size:8.5px" text-anchor="middle" transform="translate(262,415.38) rotate(-90)">0.4</text>
<line class="box" x1="375.52" y1="473.1" x2="375.52" y2="478.2"/>
<text class="ct" x="375.52" y="491.3" text-anchor="middle" style="font-size:8.5px">0.6</text>
<line class="box" x1="273.55" y1="389.12" x2="268.45" y2="389.12"/>
<text class="ct" style="font-size:8.5px" text-anchor="middle" transform="translate(262,389.12) rotate(-90)">0.6</text>
<line class="box" x1="407.51" y1="473.1" x2="407.51" y2="478.2"/>
<text class="ct" x="407.51" y="491.3" text-anchor="middle" style="font-size:8.5px">0.8</text>
<line class="box" x1="273.55" y1="362.86" x2="268.45" y2="362.86"/>
<text class="ct" style="font-size:8.5px" text-anchor="middle" transform="translate(262,362.86) rotate(-90)">0.8</text>
<line class="box" x1="439.5" y1="473.1" x2="439.5" y2="478.2"/>
<text class="ct" x="439.5" y="491.3" text-anchor="middle" style="font-size:8.5px">1.0</text>
<line class="box" x1="273.55" y1="336.6" x2="268.45" y2="336.6"/>
<text class="ct" style="font-size:8.5px" text-anchor="middle" transform="translate(262,336.6) rotate(-90)">1.0</text>
<text class="ttl" x="359.52" y="510.5" text-anchor="middle" style="font-size:8.2px">Nomogram-Predicted Probability</text>
<text class="ttl" style="font-size:8.2px" text-anchor="middle" transform="translate(242.5,402.35) rotate(-90)">Actual 3-Year OS (proportion)</text>
<text class="pan" transform="translate(465.2,329.3) scale(1,1.05)">D</text>
<line x1="514.16" y1="333" x2="514.16" y2="335" stroke="#000" stroke-opacity="0.26" stroke-width="0.6"/>
<line x1="518.35" y1="333" x2="518.35" y2="335" stroke="#000" stroke-opacity="0.26" stroke-width="0.6"/>
<line x1="520.99" y1="333" x2="520.99" y2="335" stroke="#000" stroke-opacity="0.26" stroke-width="0.6"/>
<line x1="524.95" y1="333" x2="524.95" y2="335" stroke="#000" stroke-opacity="0.26" stroke-width="0.6"/>
<line x1="528.22" y1="333" x2="528.22" y2="335" stroke="#000" stroke-opacity="0.26" stroke-width="0.6"/>
<line x1="529.63" y1="333" x2="529.63" y2="335" stroke="#000" stroke-opacity="0.26" stroke-width="0.6"/>
<line x1="532.67" y1="333" x2="532.67" y2="335" stroke="#000" stroke-opacity="0.26" stroke-width="0.6"/>
<line x1="538.51" y1="333" x2="538.51" y2="335" stroke="#000" stroke-opacity="0.26" stroke-width="0.6"/>
<line x1="539.86" y1="333" x2="539.86" y2="335" stroke="#000" stroke-opacity="0.26" stroke-width="0.6"/>
<line x1="542.99" y1="333" x2="542.99" y2="335" stroke="#000" stroke-opacity="0.26" stroke-width="0.6"/>
<line x1="548.86" y1="333" x2="548.86" y2="335" stroke="#000" stroke-opacity="0.2" stroke-width="0.6"/>
<line x1="550.49" y1="333" x2="550.49" y2="335" stroke="#000" stroke-opacity="0.2" stroke-width="0.6"/>
<line x1="555.18" y1="333" x2="555.18" y2="335" stroke="#000" stroke-opacity="0.2" stroke-width="0.6"/>
<line x1="557.37" y1="333" x2="557.37" y2="335" stroke="#000" stroke-opacity="0.2" stroke-width="0.6"/>
<line x1="561.37" y1="333" x2="561.37" y2="335" stroke="#000" stroke-opacity="0.2" stroke-width="0.6"/>
<line x1="563.12" y1="333" x2="563.12" y2="335" stroke="#000" stroke-opacity="0.2" stroke-width="0.6"/>
<line x1="568.22" y1="333" x2="568.22" y2="335" stroke="#000" stroke-opacity="0.2" stroke-width="0.6"/>
<line x1="572.45" y1="333" x2="572.45" y2="335" stroke="#000" stroke-opacity="0.2" stroke-width="0.6"/>
<line x1="574.7" y1="333" x2="574.7" y2="335" stroke="#000" stroke-opacity="0.2" stroke-width="0.6"/>
<line x1="578.88" y1="333" x2="578.88" y2="335" stroke="#000" stroke-opacity="0.2" stroke-width="0.6"/>
<line x1="582.07" y1="333" x2="582.07" y2="335" stroke="#000" stroke-opacity="0.2" stroke-width="0.6"/>
<line x1="583.42" y1="333" x2="583.42" y2="335" stroke="#000" stroke-opacity="0.2" stroke-width="0.6"/>
<line x1="589.24" y1="333" x2="589.24" y2="335" stroke="#000" stroke-opacity="0.2" stroke-width="0.6"/>
<line x1="592.1" y1="333" x2="592.1" y2="335" stroke="#000" stroke-opacity="0.2" stroke-width="0.6"/>
<line x1="594.17" y1="333" x2="594.17" y2="335" stroke="#000" stroke-opacity="0.46" stroke-width="0.6"/>
<line x1="595.79" y1="333" x2="595.79" y2="335" stroke="#000" stroke-opacity="0.46" stroke-width="0.6"/>
<line x1="599.88" y1="333" x2="599.88" y2="335" stroke="#000" stroke-opacity="0.46" stroke-width="0.6"/>
<line x1="601.23" y1="333" x2="601.23" y2="335" stroke="#000" stroke-opacity="0.46" stroke-width="0.6"/>
<line x1="604" y1="333" x2="604" y2="335" stroke="#000" stroke-opacity="0.46" stroke-width="0.6"/>
<line x1="606.58" y1="333" x2="606.58" y2="335" stroke="#000" stroke-opacity="0.46" stroke-width="0.6"/>
<line x1="608.44" y1="333" x2="608.44" y2="335" stroke="#000" stroke-opacity="0.46" stroke-width="0.6"/>
<line x1="611.12" y1="333" x2="611.12" y2="335" stroke="#000" stroke-opacity="0.46" stroke-width="0.6"/>
<line x1="612.18" y1="333" x2="612.18" y2="335" stroke="#000" stroke-opacity="0.46" stroke-width="0.6"/>
<line x1="615.31" y1="333" x2="615.31" y2="335" stroke="#000" stroke-opacity="0.46" stroke-width="0.6"/>
<line x1="616.74" y1="333" x2="616.74" y2="335" stroke="#000" stroke-opacity="0.46" stroke-width="0.6"/>
<line x1="620.06" y1="333" x2="620.06" y2="335" stroke="#000" stroke-opacity="0.46" stroke-width="0.6"/>
<line x1="622.16" y1="333" x2="622.16" y2="335" stroke="#000" stroke-opacity="0.46" stroke-width="0.6"/>
<line x1="622.64" y1="333" x2="622.64" y2="335" stroke="#000" stroke-opacity="0.46" stroke-width="0.6"/>
<line x1="624.95" y1="333" x2="624.95" y2="335" stroke="#000" stroke-opacity="0.46" stroke-width="0.6"/>
<line x1="627.36" y1="333" x2="627.36" y2="335" stroke="#000" stroke-opacity="0.46" stroke-width="0.6"/>
<line x1="631.25" y1="333" x2="631.25" y2="335" stroke="#000" stroke-opacity="0.46" stroke-width="0.6"/>
<line x1="632.3" y1="333" x2="632.3" y2="335" stroke="#000" stroke-opacity="0.46" stroke-width="0.6"/>
<line x1="638.57" y1="333" x2="638.57" y2="335" stroke="#000" stroke-opacity="0.14" stroke-width="0.6"/>
<line x1="643.97" y1="333" x2="643.97" y2="335" stroke="#000" stroke-opacity="0.14" stroke-width="0.6"/>
<line x1="653.63" y1="333" x2="653.63" y2="335" stroke="#000" stroke-opacity="0.14" stroke-width="0.6"/>
<line x1="660.67" y1="333" x2="660.67" y2="335" stroke="#000" stroke-opacity="0.14" stroke-width="0.6"/>
<line x1="668.4" y1="333" x2="668.4" y2="335" stroke="#000" stroke-opacity="0.14" stroke-width="0.6"/>
<rect class="box" x="507.1" y="332.5" width="172.95" height="141.9"/>
<line class="box" x1="513.4" y1="474.4" x2="513.4" y2="479.5"/>
<text class="ct" x="513.4" y="492.4" text-anchor="middle" style="font-size:8.5px">0.0</text>
<line class="box" x1="507.1" y1="469.4" x2="502" y2="469.4"/>
<text class="ct" style="font-size:8.5px" text-anchor="middle" transform="translate(495.1,469.4) rotate(-90)">0.0</text>
<line class="box" x1="545.44" y1="474.4" x2="545.44" y2="479.5"/>
<text class="ct" x="545.44" y="492.4" text-anchor="middle" style="font-size:8.5px">0.2</text>
<line class="box" x1="507.1" y1="442.96" x2="502" y2="442.96"/>
<text class="ct" style="font-size:8.5px" text-anchor="middle" transform="translate(495.1,442.96) rotate(-90)">0.2</text>
<line class="box" x1="577.48" y1="474.4" x2="577.48" y2="479.5"/>
<text class="ct" x="577.48" y="492.4" text-anchor="middle" style="font-size:8.5px">0.4</text>
<line class="box" x1="507.1" y1="416.52" x2="502" y2="416.52"/>
<text class="ct" style="font-size:8.5px" text-anchor="middle" transform="translate(495.1,416.52) rotate(-90)">0.4</text>
<line class="box" x1="609.52" y1="474.4" x2="609.52" y2="479.5"/>
<text class="ct" x="609.52" y="492.4" text-anchor="middle" style="font-size:8.5px">0.6</text>
<line class="box" x1="507.1" y1="390.08" x2="502" y2="390.08"/>
<text class="ct" style="font-size:8.5px" text-anchor="middle" transform="translate(495.1,390.08) rotate(-90)">0.6</text>
<line class="box" x1="641.56" y1="474.4" x2="641.56" y2="479.5"/>
<text class="ct" x="641.56" y="492.4" text-anchor="middle" style="font-size:8.5px">0.8</text>
<line class="box" x1="507.1" y1="363.64" x2="502" y2="363.64"/>
<text class="ct" style="font-size:8.5px" text-anchor="middle" transform="translate(495.1,363.64) rotate(-90)">0.8</text>
<line class="box" x1="673.6" y1="474.4" x2="673.6" y2="479.5"/>
<text class="ct" x="673.6" y="492.4" text-anchor="middle" style="font-size:8.5px">1.0</text>
<line class="box" x1="507.1" y1="337.2" x2="502" y2="337.2"/>
<text class="ct" style="font-size:8.5px" text-anchor="middle" transform="translate(495.1,337.2) rotate(-90)">1.0</text>
<text class="ttl" x="593.58" y="511.5" text-anchor="middle" style="font-size:8.2px">Nomogram-Predicted Probability</text>
<text class="ttl" style="font-size:8.2px" text-anchor="middle" transform="translate(476,403.45) rotate(-90)">Actual 5-Year OS (proportion)</text>
<text class="pan" transform="translate(1.3,522.9) scale(1,1.05)">E</text>
<line x1="142.57" y1="531.1" x2="142.57" y2="533.5" stroke="#000" stroke-opacity="0.29" stroke-width="0.7"/>
<line x1="154.41" y1="531.1" x2="154.41" y2="533.5" stroke="#000" stroke-opacity="0.29" stroke-width="0.7"/>
<line x1="157.69" y1="531.1" x2="157.69" y2="533.5" stroke="#000" stroke-opacity="0.29" stroke-width="0.7"/>
<line x1="167.55" y1="531.1" x2="167.55" y2="533.5" stroke="#000" stroke-opacity="0.29" stroke-width="0.7"/>
<line x1="169.53" y1="531.1" x2="169.53" y2="533.5" stroke="#000" stroke-opacity="0.29" stroke-width="0.7"/>
<line x1="176.1" y1="531.1" x2="176.1" y2="533.5" stroke="#000" stroke-opacity="0.29" stroke-width="0.7"/>
<line x1="185.47" y1="531.1" x2="185.47" y2="533.5" stroke="#000" stroke-opacity="0.29" stroke-width="0.7"/>
<line x1="187.93" y1="531.1" x2="187.93" y2="533.5" stroke="#000" stroke-opacity="0.29" stroke-width="0.7"/>
<line x1="196.95" y1="531.1" x2="196.95" y2="533.7" stroke="#000" stroke-opacity="0.43" stroke-width="0.8"/>
<line x1="198.09" y1="531.1" x2="198.09" y2="533.7" stroke="#000" stroke-opacity="0.43" stroke-width="0.8"/>
<line x1="199.79" y1="531.1" x2="199.79" y2="533.7" stroke="#000" stroke-opacity="0.43" stroke-width="0.8"/>
<line x1="200.79" y1="531.1" x2="200.79" y2="533.7" stroke="#000" stroke-opacity="0.43" stroke-width="0.8"/>
<line x1="204.62" y1="531.1" x2="204.62" y2="533.9" stroke="#000" stroke-opacity="0.72" stroke-width="0.9"/>
<line x1="206.34" y1="531.1" x2="206.34" y2="533.9" stroke="#000" stroke-opacity="0.72" stroke-width="0.9"/>
<line x1="208.29" y1="531.1" x2="208.29" y2="533.9" stroke="#000" stroke-opacity="0.72" stroke-width="0.9"/>
<line x1="209.42" y1="531.1" x2="209.42" y2="533.9" stroke="#000" stroke-opacity="0.72" stroke-width="0.9"/>
<line x1="210.67" y1="531.1" x2="210.67" y2="533.9" stroke="#000" stroke-opacity="0.72" stroke-width="0.9"/>
<line x1="211.25" y1="531.1" x2="211.25" y2="533.9" stroke="#000" stroke-opacity="0.72" stroke-width="0.9"/>
<rect class="box" x="43.4" y="530.6" width="177.2" height="145.6"/>
<line class="box" x1="49.55" y1="676.2" x2="49.55" y2="681.3"/>
<text class="ct" x="49.55" y="694.8" text-anchor="middle" style="font-size:8.7px">0.0</text>
<line class="box" x1="43.4" y1="670.8" x2="38.3" y2="670.8"/>
<text class="ct" style="font-size:8.7px" text-anchor="middle" transform="translate(30.7,670.8) rotate(-90)">0.0</text>
<line class="box" x1="82.42" y1="676.2" x2="82.42" y2="681.3"/>
<text class="ct" x="82.42" y="694.8" text-anchor="middle" style="font-size:8.7px">0.2</text>
<line class="box" x1="43.4" y1="643.82" x2="38.3" y2="643.82"/>
<text class="ct" style="font-size:8.7px" text-anchor="middle" transform="translate(30.7,643.82) rotate(-90)">0.2</text>
<line class="box" x1="115.29" y1="676.2" x2="115.29" y2="681.3"/>
<text class="ct" x="115.29" y="694.8" text-anchor="middle" style="font-size:8.7px">0.4</text>
<line class="box" x1="43.4" y1="616.84" x2="38.3" y2="616.84"/>
<text class="ct" style="font-size:8.7px" text-anchor="middle" transform="translate(30.7,616.84) rotate(-90)">0.4</text>
<line class="box" x1="148.16" y1="676.2" x2="148.16" y2="681.3"/>
<text class="ct" x="148.16" y="694.8" text-anchor="middle" style="font-size:8.7px">0.6</text>
<line class="box" x1="43.4" y1="589.86" x2="38.3" y2="589.86"/>
<text class="ct" style="font-size:8.7px" text-anchor="middle" transform="translate(30.7,589.86) rotate(-90)">0.6</text>
<line class="box" x1="181.03" y1="676.2" x2="181.03" y2="681.3"/>
<text class="ct" x="181.03" y="694.8" text-anchor="middle" style="font-size:8.7px">0.8</text>
<line class="box" x1="43.4" y1="562.88" x2="38.3" y2="562.88"/>
<text class="ct" style="font-size:8.7px" text-anchor="middle" transform="translate(30.7,562.88) rotate(-90)">0.8</text>
<line class="box" x1="213.9" y1="676.2" x2="213.9" y2="681.3"/>
<text class="ct" x="213.9" y="694.8" text-anchor="middle" style="font-size:8.7px">1.0</text>
<line class="box" x1="43.4" y1="535.9" x2="38.3" y2="535.9"/>
<text class="ct" style="font-size:8.7px" text-anchor="middle" transform="translate(30.7,535.9) rotate(-90)">1.0</text>
<text class="ttl" x="132" y="714.7" text-anchor="middle" style="font-size:8.45px">Nomogram-Predicted Probability</text>
<text class="ttl" style="font-size:8.45px" text-anchor="middle" transform="translate(11,603.4) rotate(-90)">Actual 1-Year OS (proportion)</text>
<text class="pan" transform="translate(250.6,522.9) scale(1,1.05)">F</text>
<line x1="278.09" y1="530.05" x2="278.09" y2="532.65" stroke="#000" stroke-opacity="0.46" stroke-width="0.6"/>
<line x1="280.29" y1="530.05" x2="280.29" y2="532.65" stroke="#000" stroke-opacity="0.46" stroke-width="0.6"/>
<line x1="282.36" y1="530.05" x2="282.36" y2="532.65" stroke="#000" stroke-opacity="0.46" stroke-width="0.6"/>
<line x1="284.61" y1="530.05" x2="284.61" y2="532.65" stroke="#000" stroke-opacity="0.46" stroke-width="0.6"/>
<line x1="286.18" y1="530.05" x2="286.18" y2="532.65" stroke="#000" stroke-opacity="0.46" stroke-width="0.6"/>
<line x1="288.5" y1="530.05" x2="288.5" y2="532.65" stroke="#000" stroke-opacity="0.46" stroke-width="0.6"/>
<line x1="288.71" y1="530.05" x2="288.71" y2="532.65" stroke="#000" stroke-opacity="0.46" stroke-width="0.6"/>
<line x1="291.54" y1="530.05" x2="291.54" y2="532.65" stroke="#000" stroke-opacity="0.46" stroke-width="0.6"/>
<line x1="294.44" y1="530.05" x2="294.44" y2="532.65" stroke="#000" stroke-opacity="0.46" stroke-width="0.6"/>
<line x1="295.83" y1="530.05" x2="295.83" y2="532.65" stroke="#000" stroke-opacity="0.46" stroke-width="0.6"/>
<line x1="298.29" y1="530.05" x2="298.29" y2="532.65" stroke="#000" stroke-opacity="0.46" stroke-width="0.6"/>
<line x1="298.71" y1="530.05" x2="298.71" y2="532.65" stroke="#000" stroke-opacity="0.46" stroke-width="0.6"/>
<line x1="302.82" y1="530.05" x2="302.82" y2="532.45" stroke="#000" stroke-opacity="0.17" stroke-width="0.6"/>
<line x1="306.75" y1="530.05" x2="306.75" y2="532.45" stroke="#000" stroke-opacity="0.17" stroke-width="0.6"/>
<line x1="313.3" y1="530.05" x2="313.3" y2="532.45" stroke="#000" stroke-opacity="0.17" stroke-width="0.6"/>
<line x1="316.96" y1="530.05" x2="316.96" y2="532.65" stroke="#000" stroke-opacity="0.32" stroke-width="0.6"/>
<line x1="318" y1="530.05" x2="318" y2="532.65" stroke="#000" stroke-opacity="0.32" stroke-width="0.6"/>
<line x1="320.84" y1="530.05" x2="320.84" y2="532.65" stroke="#000" stroke-opacity="0.32" stroke-width="0.6"/>
<line x1="323.34" y1="530.05" x2="323.34" y2="532.65" stroke="#000" stroke-opacity="0.32" stroke-width="0.6"/>
<line x1="327.2" y1="530.05" x2="327.2" y2="532.65" stroke="#000" stroke-opacity="0.32" stroke-width="0.6"/>
<line x1="330.26" y1="530.05" x2="330.26" y2="532.45" stroke="#000" stroke-opacity="0.19" stroke-width="0.6"/>
<line x1="331.73" y1="530.05" x2="331.73" y2="532.45" stroke="#000" stroke-opacity="0.19" stroke-width="0.6"/>
<line x1="337.83" y1="530.05" x2="337.83" y2="532.45" stroke="#000" stroke-opacity="0.19" stroke-width="0.6"/>
<line x1="339.11" y1="530.05" x2="339.11" y2="532.45" stroke="#000" stroke-opacity="0.19" stroke-width="0.6"/>
<line x1="344.62" y1="530.05" x2="344.62" y2="532.45" stroke="#000" stroke-opacity="0.19" stroke-width="0.6"/>
<line x1="346.52" y1="530.05" x2="346.52" y2="532.45" stroke="#000" stroke-opacity="0.19" stroke-width="0.6"/>
<line x1="349.79" y1="530.05" x2="349.79" y2="532.45" stroke="#000" stroke-opacity="0.19" stroke-width="0.6"/>
<line x1="356.76" y1="530.05" x2="356.76" y2="532.45" stroke="#000" stroke-opacity="0.19" stroke-width="0.6"/>
<line x1="358.02" y1="530.05" x2="358.02" y2="532.45" stroke="#000" stroke-opacity="0.19" stroke-width="0.6"/>
<line x1="361.77" y1="530.05" x2="361.77" y2="532.45" stroke="#000" stroke-opacity="0.19" stroke-width="0.6"/>
<line x1="368.36" y1="530.05" x2="368.36" y2="532.45" stroke="#000" stroke-opacity="0.19" stroke-width="0.6"/>
<line x1="371.68" y1="530.05" x2="371.68" y2="532.45" stroke="#000" stroke-opacity="0.19" stroke-width="0.6"/>
<line x1="373.24" y1="530.05" x2="373.24" y2="532.45" stroke="#000" stroke-opacity="0.19" stroke-width="0.6"/>
<line x1="379.48" y1="530.05" x2="379.48" y2="532.45" stroke="#000" stroke-opacity="0.19" stroke-width="0.6"/>
<line x1="380.98" y1="530.05" x2="380.98" y2="532.65" stroke="#000" stroke-opacity="0.32" stroke-width="0.6"/>
<line x1="383.86" y1="530.05" x2="383.86" y2="532.65" stroke="#000" stroke-opacity="0.32" stroke-width="0.6"/>
<line x1="385.19" y1="530.05" x2="385.19" y2="532.65" stroke="#000" stroke-opacity="0.32" stroke-width="0.6"/>
<line x1="389.58" y1="530.05" x2="389.58" y2="532.65" stroke="#000" stroke-opacity="0.32" stroke-width="0.6"/>
<line x1="391.47" y1="530.05" x2="391.47" y2="532.65" stroke="#000" stroke-opacity="0.32" stroke-width="0.6"/>
<line x1="394.7" y1="530.05" x2="394.7" y2="532.65" stroke="#000" stroke-opacity="0.32" stroke-width="0.6"/>
<line x1="397.04" y1="530.05" x2="397.04" y2="532.65" stroke="#000" stroke-opacity="0.32" stroke-width="0.6"/>
<line x1="398.06" y1="530.05" x2="398.06" y2="532.65" stroke="#000" stroke-opacity="0.32" stroke-width="0.6"/>
<line x1="400.75" y1="530.05" x2="400.75" y2="532.65" stroke="#000" stroke-opacity="0.32" stroke-width="0.6"/>
<line x1="402.78" y1="530.05" x2="402.78" y2="532.65" stroke="#000" stroke-opacity="0.32" stroke-width="0.6"/>
<line x1="405.26" y1="530.05" x2="405.26" y2="532.65" stroke="#000" stroke-opacity="0.32" stroke-width="0.6"/>
<line x1="407.58" y1="530.05" x2="407.58" y2="532.65" stroke="#000" stroke-opacity="0.32" stroke-width="0.6"/>
<line x1="410.7" y1="530.05" x2="410.7" y2="532.65" stroke="#000" stroke-opacity="0.32" stroke-width="0.6"/>
<line x1="413.99" y1="530.05" x2="413.99" y2="532.65" stroke="#000" stroke-opacity="0.32" stroke-width="0.6"/>
<line x1="415" y1="530.05" x2="415" y2="532.65" stroke="#000" stroke-opacity="0.32" stroke-width="0.6"/>
<line x1="419.23" y1="530.05" x2="419.23" y2="532.65" stroke="#000" stroke-opacity="0.32" stroke-width="0.6"/>
<line x1="420.9" y1="530.05" x2="420.9" y2="532.65" stroke="#000" stroke-opacity="0.32" stroke-width="0.6"/>
<line x1="423.36" y1="530.05" x2="423.36" y2="532.65" stroke="#000" stroke-opacity="0.32" stroke-width="0.6"/>
<line x1="427.17" y1="530.05" x2="427.17" y2="532.65" stroke="#000" stroke-opacity="0.32" stroke-width="0.6"/>
<line x1="428.84" y1="530.05" x2="428.84" y2="532.65" stroke="#000" stroke-opacity="0.32" stroke-width="0.6"/>
<line x1="430.95" y1="530.05" x2="430.95" y2="532.65" stroke="#000" stroke-opacity="0.32" stroke-width="0.6"/>
<line x1="433.9" y1="530.05" x2="433.9" y2="532.65" stroke="#000" stroke-opacity="0.32" stroke-width="0.6"/>
<rect class="box" x="272.5" y="529.55" width="181" height="149.05"/>
<line class="box" x1="278.55" y1="678.6" x2="278.55" y2="683.7"/>
<text class="ct" x="278.55" y="698.1" text-anchor="middle" style="font-size:8.9px">0.0</text>
<line class="box" x1="272.5" y1="673.4" x2="267.4" y2="673.4"/>
<text class="ct" style="font-size:8.9px" text-anchor="middle" transform="translate(259.05,673.4) rotate(-90)">0.0</text>
<line class="box" x1="312.24" y1="678.6" x2="312.24" y2="683.7"/>
<text class="ct" x="312.24" y="698.1" text-anchor="middle" style="font-size:8.9px">0.2</text>
<line class="box" x1="272.5" y1="645.76" x2="267.4" y2="645.76"/>
<text class="ct" style="font-size:8.9px" text-anchor="middle" transform="translate(259.05,645.76) rotate(-90)">0.2</text>
<line class="box" x1="345.93" y1="678.6" x2="345.93" y2="683.7"/>
<text class="ct" x="345.93" y="698.1" text-anchor="middle" style="font-size:8.9px">0.4</text>
<line class="box" x1="272.5" y1="618.12" x2="267.4" y2="618.12"/>
<text class="ct" style="font-size:8.9px" text-anchor="middle" transform="translate(259.05,618.12) rotate(-90)">0.4</text>
<line class="box" x1="379.62" y1="678.6" x2="379.62" y2="683.7"/>
<text class="ct" x="379.62" y="698.1" text-anchor="middle" style="font-size:8.9px">0.6</text>
<line class="box" x1="272.5" y1="590.48" x2="267.4" y2="590.48"/>
<text class="ct" style="font-size:8.9px" text-anchor="middle" transform="translate(259.05,590.48) rotate(-90)">0.6</text>
<line class="box" x1="413.31" y1="678.6" x2="413.31" y2="683.7"/>
<text class="ct" x="413.31" y="698.1" text-anchor="middle" style="font-size:8.9px">0.8</text>
<line class="box" x1="272.5" y1="562.84" x2="267.4" y2="562.84"/>
<text class="ct" style="font-size:8.9px" text-anchor="middle" transform="translate(259.05,562.84) rotate(-90)">0.8</text>
<line class="box" x1="447" y1="678.6" x2="447" y2="683.7"/>
<text class="ct" x="447" y="698.1" text-anchor="middle" style="font-size:8.9px">1.0</text>
<line class="box" x1="272.5" y1="535.2" x2="267.4" y2="535.2"/>
<text class="ct" style="font-size:8.9px" text-anchor="middle" transform="translate(259.05,535.2) rotate(-90)">1.0</text>
<text class="ttl" x="363" y="718.5" text-anchor="middle" style="font-size:8.6px">Nomogram-Predicted Probability</text>
<text class="ttl" style="font-size:8.6px" text-anchor="middle" transform="translate(238.4,604.08) rotate(-90)">Actual 3-Year OS (proportion)</text>
<text class="pan" transform="translate(475.2,523.1) scale(1,1.05)">G</text>
<line x1="513.06" y1="529.2" x2="513.06" y2="531.8" stroke="#000" stroke-opacity="0.51" stroke-width="0.6"/>
<line x1="514.75" y1="529.2" x2="514.75" y2="531.8" stroke="#000" stroke-opacity="0.51" stroke-width="0.6"/>
<line x1="515.84" y1="529.2" x2="515.84" y2="531.8" stroke="#000" stroke-opacity="0.51" stroke-width="0.6"/>
<line x1="517.11" y1="529.2" x2="517.11" y2="531.8" stroke="#000" stroke-opacity="0.51" stroke-width="0.6"/>
<line x1="518.33" y1="529.2" x2="518.33" y2="531.8" stroke="#000" stroke-opacity="0.51" stroke-width="0.6"/>
<line x1="521.06" y1="529.2" x2="521.06" y2="531.8" stroke="#000" stroke-opacity="0.51" stroke-width="0.6"/>
<line x1="522.38" y1="529.2" x2="522.38" y2="531.8" stroke="#000" stroke-opacity="0.51" stroke-width="0.6"/>
<line x1="524.5" y1="529.2" x2="524.5" y2="531.8" stroke="#000" stroke-opacity="0.51" stroke-width="0.6"/>
<line x1="525.51" y1="529.2" x2="525.51" y2="531.8" stroke="#000" stroke-opacity="0.51" stroke-width="0.6"/>
<line x1="527.8" y1="529.2" x2="527.8" y2="531.8" stroke="#000" stroke-opacity="0.51" stroke-width="0.6"/>
<line x1="540.21" y1="529.2" x2="540.21" y2="531.8" stroke="#000" stroke-opacity="0.32" stroke-width="0.6"/>
<line x1="543.22" y1="529.2" x2="543.22" y2="531.8" stroke="#000" stroke-opacity="0.32" stroke-width="0.6"/>
<line x1="545.05" y1="529.2" x2="545.05" y2="531.8" stroke="#000" stroke-opacity="0.32" stroke-width="0.6"/>
<line x1="546.4" y1="529.2" x2="546.4" y2="531.8" stroke="#000" stroke-opacity="0.32" stroke-width="0.6"/>
<line x1="548.61" y1="529.2" x2="548.61" y2="531.8" stroke="#000" stroke-opacity="0.32" stroke-width="0.6"/>
<line x1="570.57" y1="529.2" x2="570.57" y2="531.6" stroke="#000" stroke-opacity="0.17" stroke-width="0.6"/>
<line x1="572.81" y1="529.2" x2="572.81" y2="531.6" stroke="#000" stroke-opacity="0.17" stroke-width="0.6"/>
<line x1="578.77" y1="529.2" x2="578.77" y2="531.6" stroke="#000" stroke-opacity="0.17" stroke-width="0.6"/>
<line x1="584.25" y1="529.2" x2="584.25" y2="531.6" stroke="#000" stroke-opacity="0.17" stroke-width="0.6"/>
<line x1="586.26" y1="529.2" x2="586.26" y2="531.6" stroke="#000" stroke-opacity="0.17" stroke-width="0.6"/>
<line x1="593" y1="529.2" x2="593" y2="531.6" stroke="#000" stroke-opacity="0.17" stroke-width="0.6"/>
<line x1="596.86" y1="529.2" x2="596.86" y2="531.6" stroke="#000" stroke-opacity="0.17" stroke-width="0.6"/>
<line x1="601.93" y1="529.2" x2="601.93" y2="531.6" stroke="#000" stroke-opacity="0.17" stroke-width="0.6"/>
<line x1="604.08" y1="529.2" x2="604.08" y2="531.6" stroke="#000" stroke-opacity="0.17" stroke-width="0.6"/>
<line x1="607.4" y1="529.2" x2="607.4" y2="531.6" stroke="#000" stroke-opacity="0.17" stroke-width="0.6"/>
<line x1="614.88" y1="529.2" x2="614.88" y2="531.6" stroke="#000" stroke-opacity="0.17" stroke-width="0.6"/>
<line x1="619.28" y1="529.2" x2="619.28" y2="531.6" stroke="#000" stroke-opacity="0.17" stroke-width="0.6"/>
<line x1="621.27" y1="529.2" x2="621.27" y2="531.8" stroke="#000" stroke-opacity="0.29" stroke-width="0.6"/>
<line x1="622.94" y1="529.2" x2="622.94" y2="531.8" stroke="#000" stroke-opacity="0.29" stroke-width="0.6"/>
<line x1="625.77" y1="529.2" x2="625.77" y2="531.8" stroke="#000" stroke-opacity="0.29" stroke-width="0.6"/>
<line x1="629.46" y1="529.2" x2="629.46" y2="531.8" stroke="#000" stroke-opacity="0.29" stroke-width="0.6"/>
<line x1="631.14" y1="529.2" x2="631.14" y2="531.8" stroke="#000" stroke-opacity="0.29" stroke-width="0.6"/>
<line x1="635.4" y1="529.2" x2="635.4" y2="531.8" stroke="#000" stroke-opacity="0.29" stroke-width="0.6"/>
<line x1="637.03" y1="529.2" x2="637.03" y2="531.8" stroke="#000" stroke-opacity="0.29" stroke-width="0.6"/>
<line x1="638.6" y1="529.2" x2="638.6" y2="531.8" stroke="#000" stroke-opacity="0.29" stroke-width="0.6"/>
<line x1="642.34" y1="529.2" x2="642.34" y2="531.8" stroke="#000" stroke-opacity="0.29" stroke-width="0.6"/>
<line x1="644.15" y1="529.2" x2="644.15" y2="531.8" stroke="#000" stroke-opacity="0.29" stroke-width="0.6"/>
<line x1="648.18" y1="529.2" x2="648.18" y2="531.8" stroke="#000" stroke-opacity="0.29" stroke-width="0.6"/>
<line x1="650.69" y1="529.2" x2="650.69" y2="531.8" stroke="#000" stroke-opacity="0.29" stroke-width="0.6"/>
<line x1="652.24" y1="529.2" x2="652.24" y2="531.8" stroke="#000" stroke-opacity="0.29" stroke-width="0.6"/>
<line x1="655.14" y1="529.2" x2="655.14" y2="531.8" stroke="#000" stroke-opacity="0.29" stroke-width="0.6"/>
<line x1="657.84" y1="529.2" x2="657.84" y2="531.8" stroke="#000" stroke-opacity="0.29" stroke-width="0.6"/>
<line x1="660.68" y1="529.2" x2="660.68" y2="531.8" stroke="#000" stroke-opacity="0.29" stroke-width="0.6"/>
<rect class="box" x="506.6" y="528.7" width="177.8" height="145.7"/>
<line class="box" x1="513.4" y1="674.4" x2="513.4" y2="679.5"/>
<text class="ct" x="513.4" y="692.9" text-anchor="middle" style="font-size:8.8px">0.0</text>
<line class="box" x1="506.6" y1="669.3" x2="501.5" y2="669.3"/>
<text class="ct" style="font-size:8.8px" text-anchor="middle" transform="translate(494.2,669.3) rotate(-90)">0.0</text>
<line class="box" x1="546.24" y1="674.4" x2="546.24" y2="679.5"/>
<text class="ct" x="546.24" y="692.9" text-anchor="middle" style="font-size:8.8px">0.2</text>
<line class="box" x1="506.6" y1="642.28" x2="501.5" y2="642.28"/>
<text class="ct" style="font-size:8.8px" text-anchor="middle" transform="translate(494.2,642.28) rotate(-90)">0.2</text>
<line class="box" x1="579.08" y1="674.4" x2="579.08" y2="679.5"/>
<text class="ct" x="579.08" y="692.9" text-anchor="middle" style="font-size:8.8px">0.4</text>
<line class="box" x1="506.6" y1="615.26" x2="501.5" y2="615.26"/>
<text class="ct" style="font-size:8.8px" text-anchor="middle" transform="translate(494.2,615.26) rotate(-90)">0.4</text>
<line class="box" x1="611.92" y1="674.4" x2="611.92" y2="679.5"/>
<text class="ct" x="611.92" y="692.9" text-anchor="middle" style="font-size:8.8px">0.6</text>
<line class="box" x1="506.6" y1="588.24" x2="501.5" y2="588.24"/>
<text class="ct" style="font-size:8.8px" text-anchor="middle" transform="translate(494.2,588.24) rotate(-90)">0.6</text>
<line class="box" x1="644.76" y1="674.4" x2="644.76" y2="679.5"/>
<text class="ct" x="644.76" y="692.9" text-anchor="middle" style="font-size:8.8px">0.8</text>
<line class="box" x1="506.6" y1="561.22" x2="501.5" y2="561.22"/>
<text class="ct" style="font-size:8.8px" text-anchor="middle" transform="translate(494.2,561.22) rotate(-90)">0.8</text>
<line class="box" x1="677.6" y1="674.4" x2="677.6" y2="679.5"/>
<text class="ct" x="677.6" y="692.9" text-anchor="middle" style="font-size:8.8px">1.0</text>
<line class="box" x1="506.6" y1="534.2" x2="501.5" y2="534.2"/>
<text class="ct" style="font-size:8.8px" text-anchor="middle" transform="translate(494.2,534.2) rotate(-90)">1.0</text>
<text class="ttl" x="595.5" y="713.1" text-anchor="middle" style="font-size:8.5px">Nomogram-Predicted Probability</text>
<text class="ttl" style="font-size:8.5px" text-anchor="middle" transform="translate(474.6,601.55) rotate(-90)">Actual 5-Year OS (proportion)</text>
</g>
<g>
<line class="err" x1="173.5" y1="359.3" x2="173.5" y2="383.1" stroke-dasharray="6.5 7.6 4.3 20" stroke-dashoffset="0"/>
<line class="err" x1="171.5" y1="359.3" x2="175.5" y2="359.3"/>
<line class="err" x1="171.5" y1="383.1" x2="175.5" y2="383.1"/>
<line class="err" x1="198.8" y1="338.1" x2="198.8" y2="346.9" stroke-dasharray="20 0" stroke-dashoffset="0"/>
<line class="err" x1="196.8" y1="338.1" x2="200.8" y2="338.1"/>
<line class="err" x1="196.8" y1="346.9" x2="200.8" y2="346.9"/>
<line class="cal" x1="175.58" y1="369.77" x2="196.72" y2="345.13"/>
<circle class="dot" cx="173.5" cy="372.2" r="1.4"/>
<circle class="dot" cx="198.8" cy="342.7" r="1.4"/>
<line class="err" x1="332.2" y1="407.8" x2="332.2" y2="440.6" stroke-dasharray="8.2 4.2" stroke-dashoffset="2"/>
<line class="err" x1="330.2" y1="407.8" x2="334.2" y2="407.8"/>
<line class="err" x1="330.2" y1="440.6" x2="334.2" y2="440.6"/>
<line class="err" x1="390" y1="356.7" x2="390" y2="395.5" stroke-dasharray="8.2 4.2" stroke-dashoffset="2"/>
<line class="err" x1="388" y1="356.7" x2="392" y2="356.7"/>
<line class="err" x1="388" y1="395.5" x2="392" y2="395.5"/>
<line class="err" x1="406.4" y1="338.8" x2="406.4" y2="380.4" stroke-dasharray="8.2 4.2" stroke-dashoffset="2"/>
<line class="err" x1="404.4" y1="338.8" x2="408.4" y2="338.8"/>
<line class="err" x1="404.4" y1="380.4" x2="408.4" y2="380.4"/>
<line class="cal" x1="334.64" y1="425.23" x2="387.56" y2="380.27"/>
<line class="cal" x1="392.23" y1="375.9" x2="404.17" y2="363.6"/>
<circle class="dot" cx="332.2" cy="427.3" r="1.8"/>
<circle class="dot" cx="390" cy="378.2" r="1.8"/>
<circle class="dot" cx="406.4" cy="361.3" r="1.8"/>
<line class="err" x1="544.35" y1="426.8" x2="544.35" y2="462.2" stroke-dasharray="8.2 4.2" stroke-dashoffset="2"/>
<line class="err" x1="542.35" y1="426.8" x2="546.35" y2="426.8"/>
<line class="err" x1="542.35" y1="462.2" x2="546.35" y2="462.2"/>
<line class="err" x1="602.8" y1="364.4" x2="602.8" y2="417.85" stroke-dasharray="8.2 4.2" stroke-dashoffset="2"/>
<line class="err" x1="600.8" y1="364.4" x2="604.8" y2="364.4"/>
<line class="err" x1="600.8" y1="417.85" x2="604.8" y2="417.85"/>
<line class="err" x1="624.6" y1="337.8" x2="624.6" y2="409.7" stroke-dasharray="8.2 4.2" stroke-dashoffset="2"/>
<line class="err" x1="622.6" y1="337.8" x2="626.6" y2="337.8"/>
<line class="err" x1="622.6" y1="409.7" x2="626.6" y2="409.7"/>
<line class="cal" x1="546.69" y1="448.52" x2="600.46" y2="398.38"/>
<line class="cal" x1="605.45" y1="394.41" x2="621.95" y2="383.29"/>
<circle class="dot" cx="544.35" cy="450.7" r="1.1"/>
<circle class="dot" cx="602.8" cy="396.2" r="1.8"/>
<circle class="dot" cx="624.6" cy="381.5" r="1.1"/>
<line class="err" x1="157.4" y1="560.6" x2="157.4" y2="610" stroke-dasharray="8.2 4.2" stroke-dashoffset="2"/>
<line class="err" x1="155.4" y1="560.6" x2="159.4" y2="560.6"/>
<line class="err" x1="155.4" y1="610" x2="159.4" y2="610"/>
<line class="err" x1="203.3" y1="535.9" x2="203.3" y2="550" stroke-dasharray="4.5 5 20 0" stroke-dashoffset="0"/>
<line class="err" x1="201.3" y1="535.9" x2="205.3" y2="535.9"/>
<line class="err" x1="201.3" y1="550" x2="205.3" y2="550"/>
<line class="err" x1="209.8" y1="535.9" x2="209.8" y2="549.4" stroke-dasharray="4.5 5 20 0" stroke-dashoffset="0"/>
<line class="err" x1="207.8" y1="535.9" x2="211.8" y2="535.9"/>
<line class="err" x1="207.8" y1="549.4" x2="211.8" y2="549.4"/>
<line class="cal" x1="159.65" y1="586.03" x2="201.05" y2="544.17"/>
<line class="cal" x1="204.93" y1="541.9" x2="208.18" y2="541.9"/>
<circle class="dot" cx="157.4" cy="588.3" r="1.4"/>
<circle class="dot" cx="203.3" cy="541.9" r="1.4"/>
<circle class="dot" cx="209.8" cy="541.9" r="1.4"/>
<line class="err" x1="299.15" y1="615.6" x2="299.15" y2="664.5" stroke-dasharray="8.2 4.2" stroke-dashoffset="2"/>
<line class="err" x1="297.15" y1="615.6" x2="301.15" y2="615.6"/>
<line class="err" x1="297.15" y1="664.5" x2="301.15" y2="664.5"/>
<line class="err" x1="380" y1="550.7" x2="380" y2="625.9" stroke-dasharray="8.2 4.2" stroke-dashoffset="2"/>
<line class="err" x1="378" y1="550.7" x2="382" y2="550.7"/>
<line class="err" x1="378" y1="625.9" x2="382" y2="625.9"/>
<line class="err" x1="416.9" y1="535.5" x2="416.9" y2="576.9" stroke-dasharray="8.2 4.2" stroke-dashoffset="2"/>
<line class="err" x1="414.9" y1="535.5" x2="418.9" y2="535.5"/>
<line class="err" x1="414.9" y1="576.9" x2="418.9" y2="576.9"/>
<line class="cal" x1="301.82" y1="648.63" x2="377.33" y2="598.67"/>
<line class="cal" x1="382.08" y1="594.47" x2="414.82" y2="556.13"/>
<circle class="dot" cx="299.15" cy="650.4" r="1.8"/>
<circle class="dot" cx="380" cy="596.9" r="1.8"/>
<circle class="dot" cx="416.9" cy="553.7" r="1.8"/>
<line class="err" x1="527.9" y1="609.9" x2="527.9" y2="667.05" stroke-dasharray="8.2 4.2" stroke-dashoffset="2"/>
<line class="err" x1="525.9" y1="609.9" x2="529.9" y2="609.9"/>
<line class="err" x1="525.9" y1="667.05" x2="529.9" y2="667.05"/>
<line class="err" x1="602.75" y1="549.1" x2="602.75" y2="622.5" stroke-dasharray="8.2 4.2" stroke-dashoffset="2"/>
<line class="err" x1="600.75" y1="549.1" x2="604.75" y2="549.1"/>
<line class="err" x1="600.75" y1="622.5" x2="604.75" y2="622.5"/>
<line class="err" x1="643" y1="534.2" x2="643" y2="574.7" stroke-dasharray="8.2 4.2" stroke-dashoffset="2"/>
<line class="err" x1="641" y1="534.2" x2="645" y2="534.2"/>
<line class="err" x1="641" y1="574.7" x2="645" y2="574.7"/>
<line class="cal" x1="530.35" y1="655.64" x2="600.3" y2="596.66"/>
<line class="cal" x1="604.97" y1="592.29" x2="640.78" y2="555.11"/>
<circle class="dot" cx="527.9" cy="657.7" r="1.8"/>
<circle class="dot" cx="602.75" cy="594.6" r="1.8"/>
<circle class="dot" cx="643" cy="552.8" r="1.8"/>
</g>
<g filter="url(#gs)">
<line class="diag" x1="44.45" y1="473.5" x2="215.3" y2="333.3"/>
<line class="diag" x1="273.55" y1="473.1" x2="445.5" y2="331.6"/>
<line class="diag" x1="507.1" y1="474.4" x2="680.05" y2="332.5"/>
<line class="diag" x1="43.4" y1="676.2" x2="220.6" y2="530.6"/>
<line class="diag" x1="272.5" y1="678.6" x2="453.5" y2="529.55"/>
<line class="diag" x1="506.6" y1="674.4" x2="684.4" y2="528.7"/>
</g>
<g>
<line class="xm" x1="171.6" y1="370.3" x2="175.4" y2="374.1"/>
<line class="xm" x1="171.6" y1="374.1" x2="175.4" y2="370.3"/>
<line class="xm" x1="196.9" y1="340.8" x2="200.7" y2="344.6"/>
<line class="xm" x1="196.9" y1="344.6" x2="200.7" y2="340.8"/>
<line class="xm" x1="330.3" y1="425.4" x2="334.1" y2="429.2"/>
<line class="xm" x1="330.3" y1="429.2" x2="334.1" y2="425.4"/>
<line class="xm" x1="388.1" y1="379.6" x2="391.9" y2="383.4"/>
<line class="xm" x1="388.1" y1="383.4" x2="391.9" y2="379.6"/>
<line class="xm" x1="404.5" y1="359.4" x2="408.3" y2="363.2"/>
<line class="xm" x1="404.5" y1="363.2" x2="408.3" y2="359.4"/>
<line class="xm" x1="542.45" y1="448.8" x2="546.25" y2="452.6"/>
<line class="xm" x1="542.45" y1="452.6" x2="546.25" y2="448.8"/>
<line class="xm" x1="600.9" y1="394.3" x2="604.7" y2="398.1"/>
<line class="xm" x1="600.9" y1="398.1" x2="604.7" y2="394.3"/>
<line class="xm" x1="622.7" y1="379.6" x2="626.5" y2="383.4"/>
<line class="xm" x1="622.7" y1="383.4" x2="626.5" y2="379.6"/>
<line class="xm" x1="155.5" y1="586.4" x2="159.3" y2="590.2"/>
<line class="xm" x1="155.5" y1="590.2" x2="159.3" y2="586.4"/>
<line class="xm" x1="201.4" y1="540" x2="205.2" y2="543.8"/>
<line class="xm" x1="201.4" y1="543.8" x2="205.2" y2="540"/>
<line class="xm" x1="207.9" y1="540" x2="211.7" y2="543.8"/>
<line class="xm" x1="207.9" y1="543.8" x2="211.7" y2="540"/>
<line class="xm" x1="297.25" y1="642.9" x2="301.05" y2="646.7"/>
<line class="xm" x1="297.25" y1="646.7" x2="301.05" y2="642.9"/>
<line class="xm" x1="378.1" y1="600.2" x2="381.9" y2="604"/>
<line class="xm" x1="378.1" y1="604" x2="381.9" y2="600.2"/>
<line class="xm" x1="415" y1="553.5" x2="418.8" y2="557.3"/>
<line class="xm" x1="415" y1="557.3" x2="418.8" y2="553.5"/>
<line class="xm" x1="526" y1="652.05" x2="529.8" y2="655.85"/>
<line class="xm" x1="526" y1="655.85" x2="529.8" y2="652.05"/>
<line class="xm" x1="600.85" y1="598.4" x2="604.65" y2="602.2"/>
<line class="xm" x1="600.85" y1="602.2" x2="604.65" y2="598.4"/>
<line class="xm" x1="641.1" y1="550.9" x2="644.9" y2="554.7"/>
<line class="xm" x1="641.1" y1="554.7" x2="644.9" y2="550.9"/>
</g>
</svg></body></html>
